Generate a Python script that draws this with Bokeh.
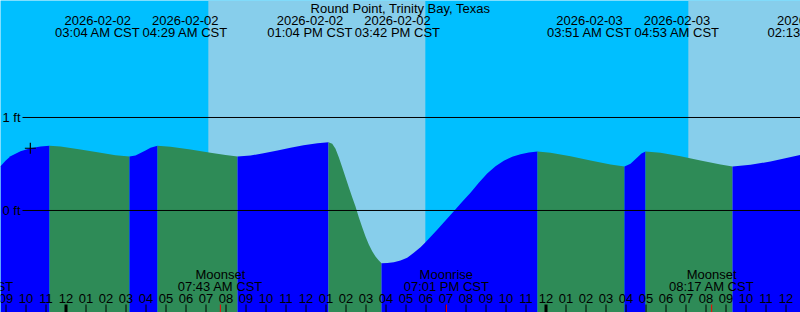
import numpy as np
from datetime import datetime
from bokeh.plotting import figure
from bokeh.models import Range1d
from bokeh.core.properties import value
from bokeh.embed import file_html
from bokeh.resources import INLINE

# ---------------- data ----------------
title = "Round Point, Trinity Bay, Texas"
origin = datetime(2026, 2, 2, 0, 0)          # hours are counted from here (CST)
view_start_h, view_end_h = -3.275, 36.725    # visible time window, hours
level_min, level_max = -1.097, 2.258         # visible water-level window, ft

# tide curve: hours from origin, height in ft
curve_hours = [-3.275, -3.025, -2.775, -2.275, -1.775, -1.275, -0.825, -0.275, 0.725, 1.725,
               2.475, 3.175, 3.475, 3.725, 3.975, 4.225, 4.575, 5.225, 6.225, 7.225,
               7.975, 8.575, 9.225, 9.875, 10.575, 11.225, 11.875, 12.575, 13.125, 13.31,
               13.475, 13.64, 13.81, 13.975, 14.14, 14.31, 14.475, 14.64, 14.81, 14.975,
               15.14, 15.31, 15.475, 15.64, 15.775, 16.075, 16.39, 16.725, 17.06, 17.39,
               17.725, 17.975, 18.56, 19.39, 19.81, 20.225, 20.64, 21.06, 21.475, 21.89,
               22.31, 22.725, 23.14, 23.575, 24.225, 25.225, 26.225, 27.225, 27.925, 28.225,
               28.575, 28.775, 28.975, 29.725, 30.725, 31.725, 32.725, 33.325, 34.225, 35.225,
               36.725]
curve_feet = [0.476, 0.534, 0.584, 0.638, 0.670, 0.688, 0.696, 0.688, 0.656, 0.620,
              0.595, 0.581, 0.591, 0.618, 0.645, 0.674, 0.696, 0.685, 0.656, 0.620,
              0.597, 0.581, 0.591, 0.616, 0.645, 0.674, 0.702, 0.724, 0.734, 0.717,
              0.663, 0.573, 0.466, 0.358, 0.251, 0.143, 0.043, -0.072, -0.180, -0.280,
              -0.366, -0.438, -0.495, -0.538, -0.568, -0.566, -0.556, -0.538, -0.509, -0.455,
              -0.395, -0.341, -0.208, -0.008, 0.094, 0.190, 0.298, 0.398, 0.476, 0.534,
              0.577, 0.605, 0.624, 0.634, 0.620, 0.584, 0.538, 0.495, 0.473, 0.502,
              0.573, 0.613, 0.634, 0.620, 0.584, 0.538, 0.495, 0.473, 0.491, 0.527,
              0.599]

tide_event_times = ["2026-02-02 03:04", "2026-02-02 04:29", "2026-02-02 13:04",
                    "2026-02-02 15:42", "2026-02-03 03:51", "2026-02-03 04:53",
                    "2026-02-03 14:13", "2026-02-03 16:35"]

moon_event_names = ["Moonrise", "Moonset", "Moonrise", "Moonset"]
moon_event_times = ["2026-02-01 19:14", "2026-02-02 07:43", "2026-02-02 19:01",
                    "2026-02-03 08:17"]

sunrise_times = ["2026-02-02 07:07", "2026-02-03 07:07"]
sunset_times = ["2026-02-02 17:58", "2026-02-03 17:59"]

level_ticks = [0, 1]
level_labels = ["0 ft", "1 ft"]
now_time = "2026-02-01 22:13"

# ---------------- colours ----------------
NIGHT = "#00BFFF"
DAY = "#87CEEB"
RISING = "#0000FF"
FALLING = "#2E8B57"
FONT = value("Liberation Sans")
FS = "13px"

W, H = 800, 312


def hrs(s):
    d = datetime.strptime(s, "%Y-%m-%d %H:%M")
    return (d - origin).total_seconds() / 3600.0


def dt(s):
    return datetime.strptime(s, "%Y-%m-%d %H:%M")


def ypx(py):
    # screen-pixel row -> level
    return level_max - py * (level_max - level_min) / H


def xpx(px):
    return view_start_h + px * (view_end_h - view_start_h) / W


px_per_h = W / (view_end_h - view_start_h)

p = figure(width=W, height=H, x_range=Range1d(view_start_h, view_end_h),
           y_range=Range1d(level_min, level_max), output_backend="svg",
           toolbar_location=None, min_border=0)
p.min_border_left = p.min_border_right = p.min_border_top = p.min_border_bottom = 0
p.axis.visible = False
p.grid.visible = False
p.outline_line_color = None
p.background_fill_color = NIGHT
p.border_fill_color = NIGHT

# daylight bands
p.quad(left=[hrs(s) for s in sunrise_times], right=[hrs(s) for s in sunset_times],
       bottom=level_min, top=level_max, fill_color=DAY, line_color=None)

# tide fill, split at turning points
hx = np.array(curve_hours)
fy = np.array(curve_feet)
turn = [0]
for i in range(1, len(fy) - 1):
    if (fy[i] - fy[i - 1]) * (fy[i + 1] - fy[i]) < 0:
        turn.append(i)
turn.append(len(fy) - 1)
for a, b in zip(turn[:-1], turn[1:]):
    col = RISING if fy[b] > fy[a] else FALLING
    p.varea(x=hx[a:b + 1], y1=np.full(b - a + 1, level_min), y2=fy[a:b + 1],
            fill_color=col)

# level lines + labels
p.segment(x0=xpx(22), x1=view_end_h, y0=level_ticks, y1=level_ticks,
          line_color="black", line_width=1)
p.text(x=xpx(2), y=level_ticks, text=level_labels, text_font=FONT,
       text_font_size=FS, text_align="left", text_baseline="middle", text_color="black")

# "now" mark
nh = hrs(now_time)
p.scatter(x=[nh], y=[np.interp(nh, hx, fy)], marker="cross", size=11,
          line_color="black", line_width=1.2)

# title
p.text(x=[(view_start_h + view_end_h) / 2], y=[ypx(7.5)], text=[title], text_font=FONT,
       text_font_size=FS, text_align="center", text_baseline="middle", text_color="black")

# tide event labels (pushed apart when crowded)
ev = [hrs(s) for s in tide_event_times]
cent = list(ev)
min_sep = 87.5 / px_per_h
i = 0
while i < len(cent) - 1:
    if cent[i + 1] - cent[i] < min_sep:
        mid = (cent[i] + cent[i + 1]) / 2
        cent[i], cent[i + 1] = mid - min_sep / 2, mid + min_sep / 2
        i += 2
    else:
        i += 1
dates = [dt(s).strftime("%Y-%m-%d") for s in tide_event_times]
times = [dt(s).strftime("%I:%M %p CST") for s in tide_event_times]
p.text(x=cent, y=ypx(19.5), text=dates, text_font=FONT, text_font_size=FS,
       text_align="center", text_baseline="middle", text_color="black")
p.text(x=cent, y=ypx(31.5), text=times, text_font=FONT, text_font_size=FS,
       text_align="center", text_baseline="middle", text_color="black")

# hour ticks + labels
hours = list(range(int(np.ceil(view_start_h)), int(np.floor(view_end_h)) + 1))
hour_lbl = [(datetime(2026, 2, 2).replace(hour=h % 24)).strftime("%I") for h in hours]
p.text(x=hours, y=ypx(297.5), text=hour_lbl, text_font=FONT, text_font_size=FS,
       text_align="center", text_baseline="middle", text_color="black")
thin = [h for h in hours if h % 24 != 0]
mids = [h for h in hours if h % 24 == 0]
p.segment(x0=thin, x1=thin, y0=ypx(304), y1=level_min, line_color="black", line_width=1)
p.segment(x0=mids, x1=mids, y0=ypx(304), y1=level_min, line_color="black", line_width=3)

# moon events
mh = [hrs(s) for s in moon_event_times]
p.segment(x0=mh, x1=mh, y0=ypx(304), y1=level_min, line_color="#FF0000", line_width=1)
p.text(x=mh, y=ypx(273.5), text=moon_event_names, text_font=FONT, text_font_size=FS,
       text_align="center", text_baseline="middle", text_color="black")
p.text(x=mh, y=ypx(285.5), text=[dt(s).strftime("%I:%M %p CST") for s in moon_event_times],
       text_font=FONT, text_font_size=FS, text_align="center", text_baseline="middle",
       text_color="black")

open("out.html", "w").write(file_html(p, INLINE))
